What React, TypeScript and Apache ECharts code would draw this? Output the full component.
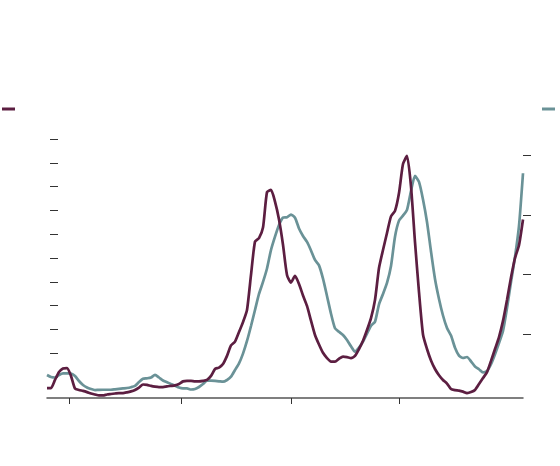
import React, { useEffect, useRef } from "react";
import * as echarts from "echarts";

// sample index (one step = 4 px of the original plot)
const purpleValues = [
  -4.6, -4.6, -1.2, 2.1, 3.6, 3.8, 0.5, -4.8, -5.4, -5.8,
  -6.3, -6.9, -7.3, -7.7, -7.7, -7.3, -7.1, -6.9, -6.7, -6.7,
  -6.4, -6.0, -5.4, -4.4, -3.1, -3.3, -3.7, -4.0, -4.2, -4.2,
  -3.9, -3.7, -3.5, -2.9, -1.8, -1.6, -1.6, -1.8, -1.8, -1.6,
  -1.2, 0.5, 3.4, 4.0, 5.5, 8.9, 13.3, 14.9, 18.9, 23.1,
  28.2, 42.9, 56.9, 58.4, 62.8, 77.7, 78.6, 73.7, 66.2, 55.6,
  42.9, 39.7, 42.5, 39.1, 34.3, 29.9, 23.7, 17.7, 13.7, 10.2,
  8.0, 6.5, 6.5, 7.7, 8.6, 8.4, 8.0, 8.9, 11.8, 15.3,
  19.8, 24.8, 32.4, 45.8, 53.4, 60.5, 67.5, 69.8, 77.3, 89.5,
  92.9, 80.0, 56.7, 35.7, 17.9, 11.8, 7.0, 3.4, 0.8, -1.2,
  -2.7, -5.0, -5.5, -5.7, -6.1, -6.7, -6.3, -5.4, -2.9, -0.4,
  2.1, 6.8, 11.8, 16.8, 23.6, 32.4, 41.8, 50.0, 55.4, 66.2,
];

const tealValues = [
  3.10, 2.76, 2.68, 3.10, 3.38, 3.38, 3.35, 2.93, 2.09, 1.41,
  0.99, 0.74, 0.57, 0.61, 0.62, 0.62, 0.62, 0.69, 0.77, 0.84,
  0.91, 1.04, 1.25, 1.92, 2.46, 2.54, 2.68, 3.13, 2.68, 2.17,
  1.88, 1.58, 1.30, 0.99, 0.86, 0.86, 0.66, 0.74, 1.08, 1.58,
  2.14, 2.14, 2.10, 2.04, 1.97, 2.26, 2.81, 3.94, 5.05, 6.70,
  8.82, 11.34, 14.04, 16.73, 18.75, 21.02, 24.13, 26.37, 28.34, 29.57,
  29.64, 30.09, 29.55, 27.75, 26.49, 25.48, 24.05, 22.45, 21.54, 19.30,
  16.39, 13.41, 10.96, 10.37, 9.83, 8.99, 7.93, 7.02, 7.69, 8.70,
  10.05, 11.39, 12.07, 15.00, 16.73, 18.58, 21.44, 26.37, 29.07, 29.91,
  30.87, 34.06, 36.59, 35.58, 32.63, 28.85, 23.88, 19.25, 15.89, 13.11,
  11.01, 9.73, 7.69, 6.36, 5.96, 6.13, 5.40, 4.54, 4.06, 3.53,
  3.77, 4.91, 6.60, 8.48, 10.50, 14.37, 18.75, 22.96, 28.17, 37.04,
];

const xTickValues = [5.675, 33.5, 61.075, 88.175];
const leftTickValues = [0, 10, 20, 30, 40, 50, 60, 70, 80, 90, 100];
const rightTickValues = [10, 20, 30, 40];

const PURPLE = "#5c1e41";
const TEAL = "#6a9297";
const TICK = "#333333";

export default function App() {
  const ref = useRef<HTMLDivElement>(null);

  useEffect(() => {
    if (!ref.current) return;
    const chart = echarts.init(ref.current, undefined, { renderer: "svg" });
    const purpleData = purpleValues.map((v, i) => [i, v]);
    const tealData = tealValues.map((v, i) => [i, v]);

    chart.setOption({
      animation: false,
      backgroundColor: "#ffffff",
      grid: { left: 47, right: 37, top: 139, bottom: 68, containLabel: false },
      xAxis: {
        type: "value",
        min: 0,
        max: purpleValues.length - 1,
        axisLine: { show: true, onZero: false, lineStyle: { color: "#555555", width: 1.5 } },
        axisTick: {
          show: true,
          length: 6,
          customValues: xTickValues,
          lineStyle: { color: TICK, width: 1 },
        },
        axisLabel: { show: false },
        splitLine: { show: false },
      },
      yAxis: [
        {
          type: "value",
          position: "left",
          min: -8.78,
          max: 100,
          offset: -11,
          axisLine: { show: false },
          axisTick: {
            show: true,
            length: 8,
            customValues: leftTickValues,
            lineStyle: { color: TICK, width: 1 },
          },
          axisLabel: { show: false },
          splitLine: { show: false },
        },
        {
          type: "value",
          position: "right",
          min: -0.77,
          max: 42.8,
          axisLine: { show: false },
          axisTick: {
            show: true,
            length: 8,
            customValues: rightTickValues,
            lineStyle: { color: TICK, width: 1 },
          },
          axisLabel: { show: false },
          splitLine: { show: false },
        },
      ],
      series: [
        {
          type: "line",
          yAxisIndex: 1,
          data: tealData,
          showSymbol: false,
          smooth: 0.2,
          lineStyle: { color: TEAL, width: 2.7 },
          itemStyle: { color: TEAL },
        },
        {
          type: "line",
          yAxisIndex: 0,
          data: purpleData,
          showSymbol: false,
          smooth: 0.2,
          lineStyle: { color: PURPLE, width: 2.7 },
          itemStyle: { color: PURPLE },
        },
      ],
      graphic: [
        { type: "rect", left: 2, top: 107.5, shape: { width: 13, height: 3 }, style: { fill: PURPLE } },
        { type: "rect", left: 542, top: 107.5, shape: { width: 13, height: 3 }, style: { fill: TEAL } },
      ],
    });

    return () => chart.dispose();
  }, []);

  return (
    <div
      ref={ref}
      style={{ position: "fixed", left: 0, top: 0, width: 560, height: 466 }}
    />
  );
}
